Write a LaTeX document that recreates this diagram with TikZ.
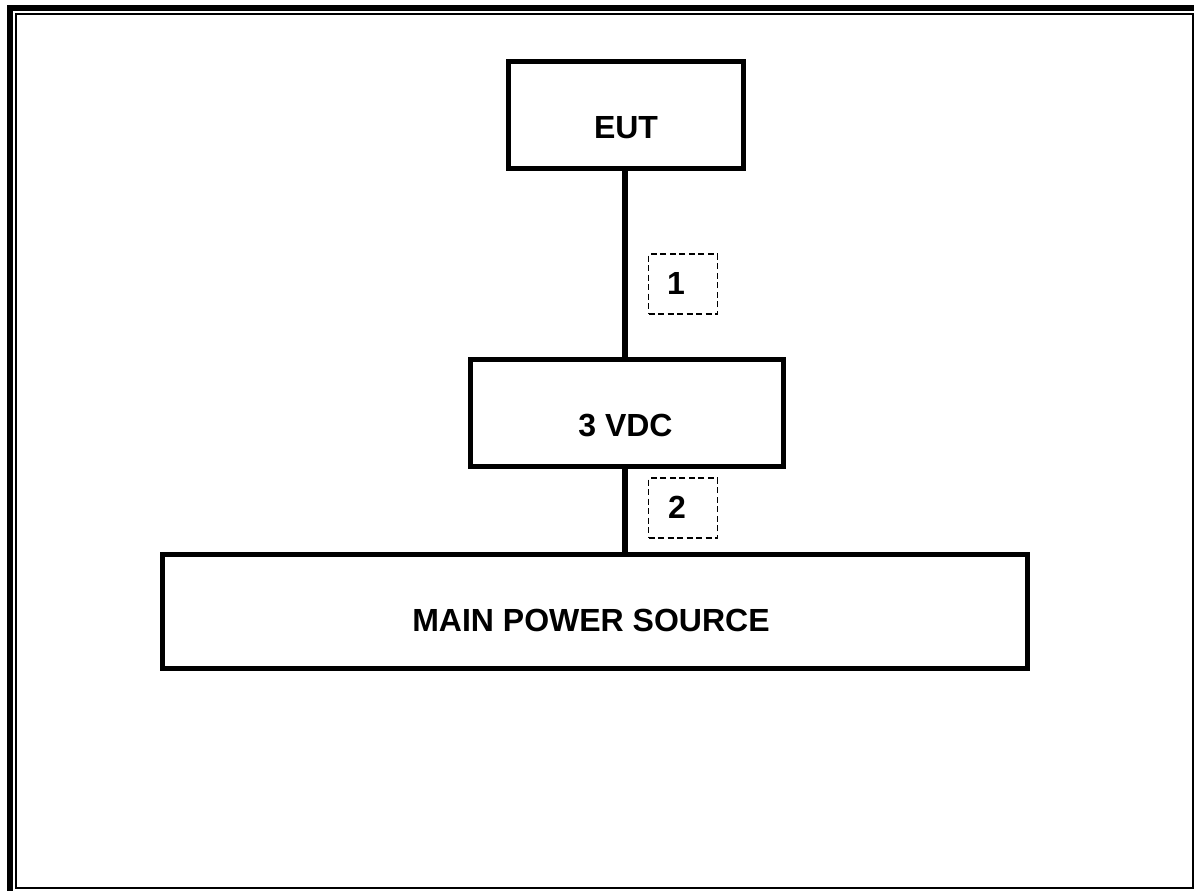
\documentclass[tikz,border=0pt]{standalone}
\usepackage{fontspec}
\setmainfont{Liberation Sans}
\begin{document}
\begin{tikzpicture}[x=1pt,y=-1pt,
  boxstyle/.style={draw=black, line width=5pt, fill=white, inner sep=0pt},
  dashbox/.style={draw=black, line width=1.8pt, dash pattern=on 6pt off 3.5pt, inner sep=0pt, minimum width=69pt, minimum height=60pt},
  lbl/.style={inner sep=0pt, font=\fontsize{32}{37}\selectfont\bfseries},
  wire/.style={line width=5.5pt, draw=black}
]
\useasboundingbox (0,0) rectangle (1194,891);
% frame
\draw[line width=6.5pt] (10,891) -- (10,8) -- (1194,8);
\draw[line width=2.2pt] (16,888) -- (16,14) -- (1192.9,14) -- (1192.9,888) -- cycle;
% boxes
\node[boxstyle, minimum width=235pt, minimum height=106pt] (eut) at (625.5,115) {};
\node[boxstyle, minimum width=313.5pt, minimum height=107pt] (vdc) at (626.75,412.5) {};
\node[boxstyle, minimum width=865pt, minimum height=114pt] (main) at (595,611) {};
% connectors
\coordinate (c1) at (625,115);
\draw[wire] (eut.south -| c1) -- (vdc.north -| c1);
\draw[wire] (vdc.south -| c1) -- (main.north -| c1);
% labels
\node[lbl] (teut) at (626,128) {EUT};
\node[lbl] (tvdc) at (625.5,426) {3 VDC};
\node[lbl] (tmain) at (591,620.5) {MAIN POWER SOURCE};
% dashed cable boxes
\node[dashbox] (d1) at (683,284) {};
\node[lbl] (n1) at (676,283) {1};
\node[dashbox] (d2) at (683,508) {};
\node[lbl] (n2) at (677,507.5) {2};
\end{tikzpicture}
\end{document}
